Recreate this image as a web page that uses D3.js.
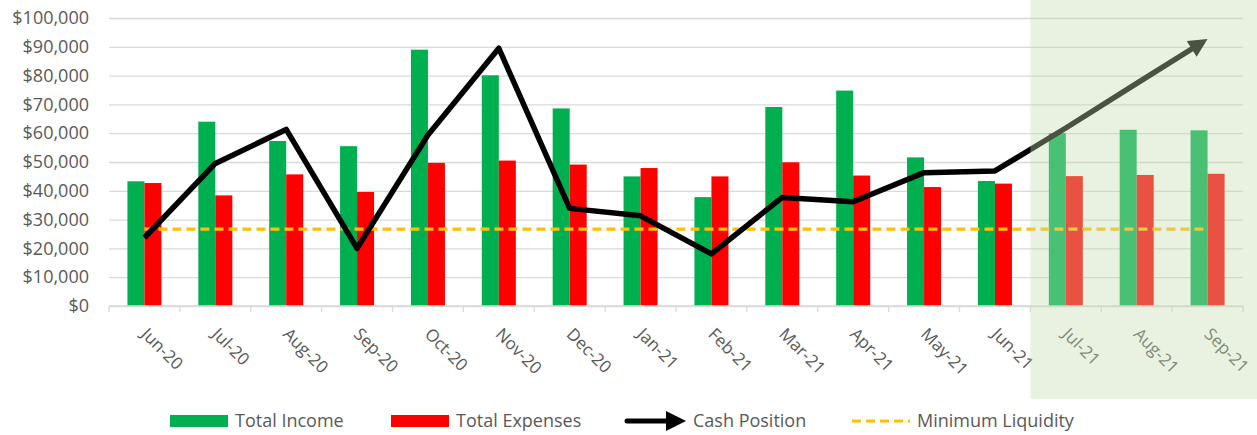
<!DOCTYPE html>
<html>
<head>
<meta charset="utf-8">
<script src="https://cdn.jsdelivr.net/npm/d3@7"></script>
<style>
  body { margin: 0; background: #fff; }
  svg { display: block; font-family: "Open Sans", sans-serif; }
</style>
</head>
<body>
<svg id="chart" width="1257" height="435"></svg>
<script>
// chart data
const months = ["Jun-20", "Jul-20", "Aug-20", "Sep-20", "Oct-20", "Nov-20", "Dec-20", "Jan-21",
    "Feb-21", "Mar-21", "Apr-21", "May-21", "Jun-21", "Jul-21", "Aug-21", "Sep-21"];
const income = [43300, 64000, 57300, 55500, 89000, 80100, 68600, 45000,
    37800, 69100, 74800, 51600, 43400, 60000, 61200, 61000];
const expenses = [42700, 38400, 45700, 39600, 49700, 50500, 49100, 47900,
    45000, 49900, 45300, 41300, 42500, 45100, 45500, 45900];
const cash = [23700, 49500, 61300, 20000, 59400, 89500, 33900, 31300,
    18100, 37700, 36200, 46300, 46900, 61800, 77300, 92700];
const minLiquidity = 26700;
const forecastStart = "Jul-21";
const yTickValues = [0, 10000, 20000, 30000, 40000, 50000, 60000, 70000, 80000, 90000, 100000];
const legendItems = ["Total Income", "Total Expenses", "Cash Position", "Minimum Liquidity"];

const greenColor = '#00B050'
const redColor = '#FF0000'
const lineColor = '#000000'
const liqColor = '#FFC000'
const gridColor = '#D9D9D9'
const textColor = '#595959'

const plot = { left: 109, right: 1243, top: 18, bottom: 306 };

var svg = d3.select("#chart");

var x = d3.scaleBand()
    .domain(months)
    .range([plot.left, plot.right])
    .padding(0);

var xs = d3.scaleBand()
    .domain(["income", "expenses"])
    .range([x.bandwidth() * 0.26, x.bandwidth() * 0.74]);

var y = d3.scaleLinear()
    .domain([0, 100000])
    .range([plot.bottom, plot.top]);

// defs for arrow heads
var defs = svg.append("defs");
defs.append("marker")
    .attr("id", "arrow")
    .attr("viewBox", "0 0 10 10")
    .attr("refX", 10)
    .attr("refY", 5)
    .attr("markerUnits", "strokeWidth")
    .attr("markerWidth", 3.7)
    .attr("markerHeight", 3.4)
    .attr("orient", "auto")
    .append("path")
    .attr("d", "M0,0 L10,5 L0,10 Z")
    .attr("fill", lineColor);

// gridlines
svg.append("g")
    .attr("transform", "translate(" + plot.left + ",0)")
    .call(d3.axisLeft(y)
        .tickValues(yTickValues)
        .tickSize(-(plot.right - plot.left))
        .tickFormat(""))
    .call(g => g.select(".domain").remove())
    .selectAll("line")
    .attr("stroke", gridColor)
    .attr("stroke-width", 1.3);

// y axis labels
svg.append("g")
    .attr("transform", "translate(" + (plot.left - 20) + ",0)")
    .call(d3.axisLeft(y)
        .tickValues(yTickValues)
        .tickSize(0)
        .tickFormat(d => "$" + d3.format(",")(d)))
    .call(g => g.select(".domain").remove())
    .selectAll("text")
    .attr("fill", textColor)
    .attr("font-size", 18)
    .attr("font-family", "Open Sans, sans-serif")
    .attr("x", 0);

// bars
var barGroups = svg.append("g")
    .selectAll("g")
    .data(months)
    .enter()
    .append("g")
    .attr("transform", d => "translate(" + x(d) + ",0)");

barGroups.append("rect")
    .attr("x", xs("income"))
    .attr("y", (d, i) => y(income[i]))
    .attr("width", xs.bandwidth())
    .attr("height", (d, i) => y(0) - y(income[i]))
    .attr("fill", greenColor);

barGroups.append("rect")
    .attr("x", xs("expenses"))
    .attr("y", (d, i) => y(expenses[i]))
    .attr("width", xs.bandwidth())
    .attr("height", (d, i) => y(0) - y(expenses[i]))
    .attr("fill", redColor);

// x axis line and ticks (ticks between categories)
svg.append("line")
    .attr("x1", plot.left).attr("x2", plot.right)
    .attr("y1", y(0)).attr("y2", y(0))
    .attr("stroke", gridColor).attr("stroke-width", 1.3);

svg.append("g")
    .selectAll("line")
    .data(months.concat(["end"]))
    .enter()
    .append("line")
    .attr("x1", d => d === "end" ? plot.right : x(d))
    .attr("x2", d => d === "end" ? plot.right : x(d))
    .attr("y1", y(0))
    .attr("y2", y(0) + 6)
    .attr("stroke", gridColor)
    .attr("stroke-width", 1.3);

// x labels, rotated
svg.append("g")
    .selectAll("text")
    .data(months)
    .enter()
    .append("text")
    .attr("transform", d => "translate(" + (x(d) + x.bandwidth() / 2) + ",331) rotate(45)")
    .attr("dy", "0.35em")
    .attr("text-anchor", "start")
    .attr("font-size", 17)
    .attr("fill", textColor)
    .text(d => d);

// minimum liquidity
svg.append("line")
    .attr("x1", x(months[0]) + x.bandwidth() / 2)
    .attr("x2", x(months[months.length - 1]) + x.bandwidth() / 2)
    .attr("y1", y(minLiquidity))
    .attr("y2", y(minLiquidity))
    .attr("stroke", liqColor)
    .attr("stroke-width", 3.2)
    .attr("stroke-dasharray", "9,5");

// cash position
var cashLine = d3.line()
    .x((d, i) => x(months[i]) + x.bandwidth() / 2)
    .y(d => y(d));

var cashPath = svg.append("path")
    .datum(cash)
    .attr("d", cashLine)
    .attr("fill", "none")
    .attr("stroke", lineColor)
    .attr("stroke-width", 5.5)
    .attr("stroke-linejoin", "round")
    .attr("marker-end", "url(#arrow)");

// stop the stroke a little before the tip so it hides under the arrow
var len = cashPath.node().getTotalLength();
cashPath.attr("stroke-dasharray", (len - 6) + "," + 100);

// forecast shading on top
svg.append("rect")
    .attr("x", x(forecastStart))
    .attr("y", 0)
    .attr("width", 1257 - x(forecastStart))
    .attr("height", 399)
    .attr("fill", "rgb(197,218,175)")
    .attr("fill-opacity", 0.376);

// legend
var legend = svg.append("g")
    .attr("transform", "translate(0,421)");

legend.append("rect")
    .attr("x", 170).attr("y", -6).attr("width", 58).attr("height", 12)
    .attr("fill", greenColor);
legend.append("rect")
    .attr("x", 391).attr("y", -6).attr("width", 58).attr("height", 12)
    .attr("fill", redColor);

defs.append("marker")
    .attr("id", "arrowLegend")
    .attr("viewBox", "0 0 10 10")
    .attr("refX", 10)
    .attr("refY", 5)
    .attr("markerUnits", "strokeWidth")
    .attr("markerWidth", 4)
    .attr("markerHeight", 4.2)
    .attr("orient", "auto")
    .append("path")
    .attr("d", "M0,0 L10,5 L0,10 Z")
    .attr("fill", lineColor);

legend.append("line")
    .attr("x1", 627).attr("x2", 686).attr("y1", 0).attr("y2", 0)
    .attr("stroke", lineColor).attr("stroke-width", 5)
    .attr("stroke-linecap", "round")
    .attr("stroke-dasharray", "50,100")
    .attr("marker-end", "url(#arrowLegend)");

legend.append("line")
    .attr("x1", 852).attr("x2", 910).attr("y1", 0).attr("y2", 0)
    .attr("stroke", liqColor).attr("stroke-width", 3.2)
    .attr("stroke-dasharray", "9,5");

legend.selectAll("text.leg")
    .data(legendItems)
    .enter()
    .append("text")
    .attr("class", "leg")
    .attr("x", (d, i) => [235, 456, 693, 917][i])
    .attr("y", 0)
    .attr("dy", "0.35em")
    .attr("font-size", 18)
    .attr("fill", textColor)
    .text(d => d);
</script>
</body>
</html>
